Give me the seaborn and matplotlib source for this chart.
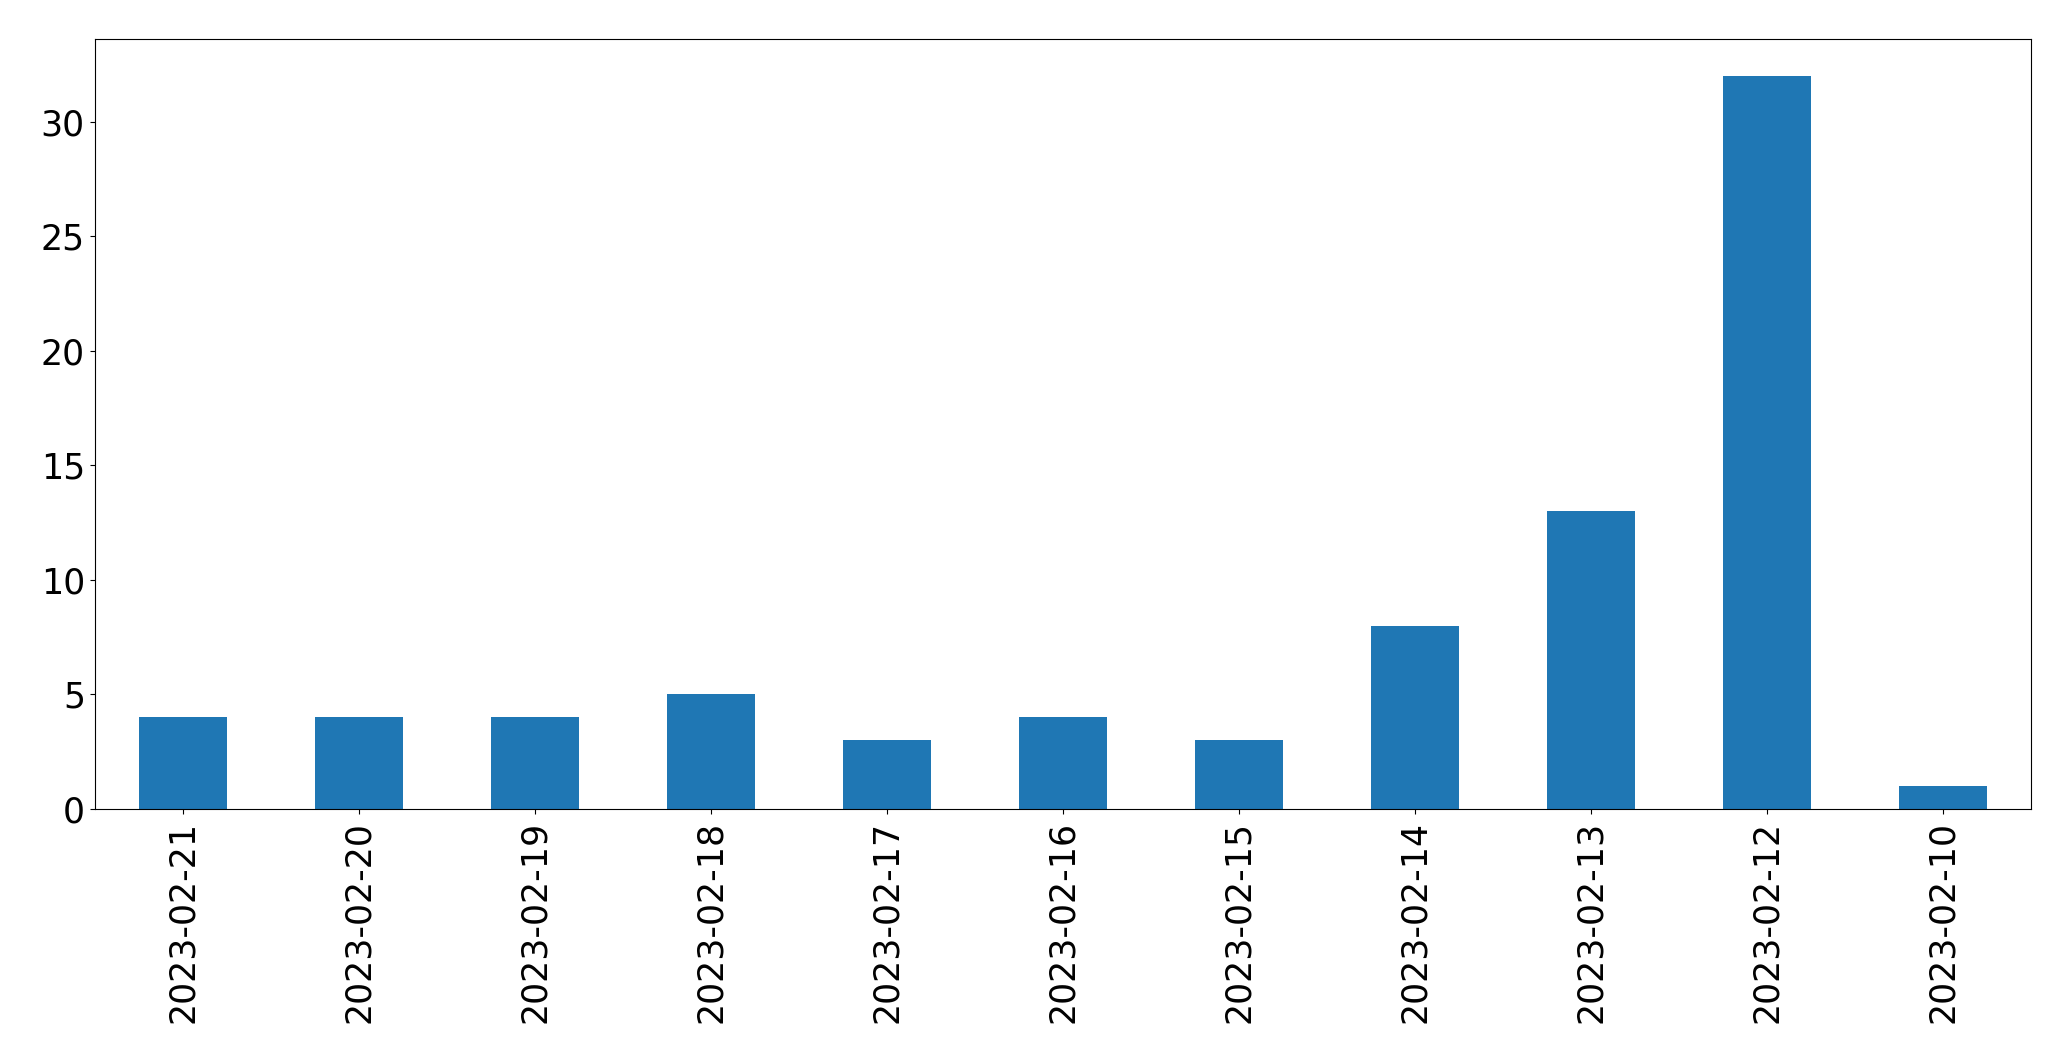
import pandas as pd
import seaborn as sns
import matplotlib.pyplot as plt

dates = ["2023-02-21", "2023-02-20", "2023-02-19", "2023-02-18", "2023-02-17",
         "2023-02-16", "2023-02-15", "2023-02-14", "2023-02-13", "2023-02-12",
         "2023-02-10"]
counts = [4, 4, 4, 5, 3, 4, 3, 8, 13, 32, 1]

df = pd.DataFrame({"date": dates, "count": counts})

fig, ax = plt.subplots(figsize=(20.71, 10.61), dpi=100)
sns.barplot(data=df, x="date", y="count", order=dates, color="#1f77b4",
            saturation=1, width=0.5, ax=ax)

ax.set_xlim(-0.5, len(dates) - 0.5)
ax.set_ylim(0, max(counts) * 1.05)
ax.set_xlabel("")
ax.set_ylabel("")
ax.tick_params(axis="both", labelsize=25)
ax.tick_params(axis="x", labelrotation=90, pad=5)

fig.subplots_adjust(left=0.0457, right=0.9807, top=0.963, bottom=0.2375)
fig.savefig("out.png", dpi=100)
